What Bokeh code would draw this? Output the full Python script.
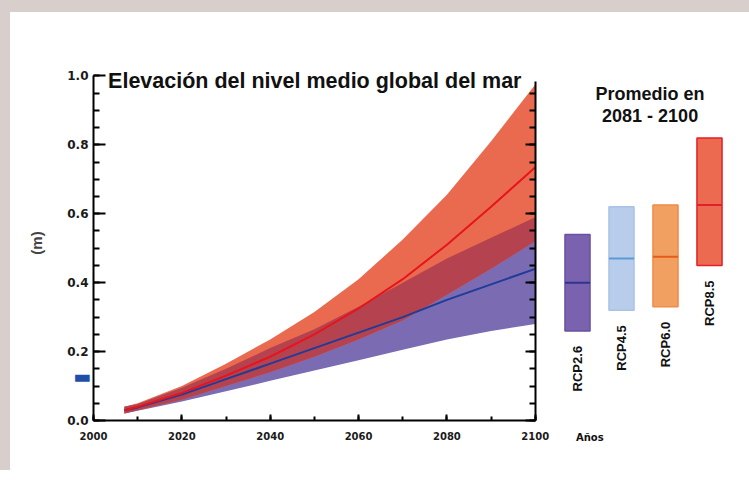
import numpy as np
from bokeh.plotting import figure
from bokeh.models import (Range1d, LinearAxis, SingleIntervalTicker, FixedTicker,
                          NumeralTickFormatter, Label, ColumnDataSource, Spacer)
from bokeh.layouts import row, column
from bokeh.embed import file_html
from bokeh.resources import INLINE
from bokeh.core.properties import value

# ---------------- data ----------------
years = [2007, 2010, 2020, 2030, 2040, 2050, 2060, 2070, 2080, 2090, 2100]
rcp85_mean = [0.03, 0.04, 0.08, 0.13, 0.185, 0.25, 0.325, 0.41, 0.51, 0.62, 0.735]
rcp85_high = [0.04, 0.05, 0.10, 0.165, 0.235, 0.315, 0.41, 0.525, 0.655, 0.81, 0.975]
rcp85_low = [0.02, 0.03, 0.06, 0.10, 0.14, 0.185, 0.235, 0.29, 0.365, 0.44, 0.52]
rcp26_mean = [0.03, 0.038, 0.075, 0.12, 0.165, 0.21, 0.255, 0.30, 0.35, 0.395, 0.44]
rcp26_high = [0.04, 0.048, 0.095, 0.15, 0.21, 0.265, 0.33, 0.40, 0.47, 0.53, 0.59]
rcp26_low = [0.02, 0.028, 0.055, 0.085, 0.115, 0.145, 0.175, 0.205, 0.235, 0.26, 0.28]
obs_level = 0.128

scenarios = ["RCP2.6", "RCP4.5", "RCP6.0", "RCP8.5"]
avg_mean = [0.40, 0.47, 0.475, 0.625]
avg_low = [0.26, 0.32, 0.33, 0.45]
avg_high = [0.54, 0.62, 0.625, 0.82]

title_text = "Elevación del nivel medio global del mar"
ylabel = "(m)"
xlabel = "Años"
avg_title = ["Promedio en", "2081 - 2100"]

# ---------------- styles ----------------
GREY = "#d8cfcc"
C_RED_BAND = "#ea6a4f"
C_OVER = "#b4434f"
C_BLUE_BAND = "#7a6bb3"
C_RED_LINE = "#e8141c"
C_BLUE_LINE = "#1f3c99"
bar_fill = ["#7a62ae", "#b8cdeb", "#f2a062", "#eb6a50"]
bar_line = ["#6a52a2", "#aac2e6", "#ee8c48", "#e2202a"]
bar_med = ["#2d3590", "#5b9bd5", "#e85a1a", "#e0202a"]
FONT = "Liberation Sans"
TICKFONT = "DejaVu Sans"
TXT = "#111111"

Y_TOP = 1.03  # small headroom above the 1.0 tick for the title

# ---------------- main figure ----------------
p = figure(frame_width=442, frame_height=355, min_border_left=83, min_border_right=15,
           min_border_top=53, min_border_bottom=50,
           x_range=Range1d(2000, 2100.05), y_range=Range1d(0, Y_TOP),
           output_backend="svg", toolbar_location=None, tools="")
p.outline_line_color = None
p.xgrid.visible = False
p.ygrid.visible = False
p.background_fill_color = "white"
p.border_fill_color = "white"

yr = np.array(years, dtype=float)
r_lo, r_hi = np.array(rcp85_low), np.array(rcp85_high)
b_lo, b_hi = np.array(rcp26_low), np.array(rcp26_high)
ov_lo = np.maximum(r_lo, b_lo)
ov_hi = np.maximum(np.minimum(r_hi, b_hi), ov_lo)

p.varea(x=yr, y1=b_lo, y2=b_hi, fill_color=C_BLUE_BAND)
p.varea(x=yr, y1=r_lo, y2=r_hi, fill_color=C_RED_BAND)
p.varea(x=yr, y1=ov_lo, y2=ov_hi, fill_color=C_OVER)
p.line(yr, rcp26_mean, line_color=C_BLUE_LINE, line_width=2)
p.line(yr, rcp85_mean, line_color=C_RED_LINE, line_width=2)

# axes
yax = p.yaxis[0]
yax.ticker = SingleIntervalTicker(interval=0.2, num_minor_ticks=4)
yax.formatter = NumeralTickFormatter(format="0.0")
yax.bounds = (0, 1.0)
xax = p.xaxis[0]
xax.ticker = SingleIntervalTicker(interval=20, num_minor_ticks=2)

for ax in (xax, yax):
    ax.axis_line_width = 2
    ax.axis_line_color = "black"
    ax.major_tick_out = 0
    ax.minor_tick_out = 0
    ax.major_tick_line_color = "black"
    ax.minor_tick_line_color = "black"
    ax.major_label_text_font = TICKFONT
    ax.major_label_text_font_style = "bold"
    ax.major_label_text_color = "#1a1a1a"

yax.major_tick_in = 12
yax.minor_tick_in = 6
yax.major_tick_line_width = 2
yax.minor_tick_line_width = 2
yax.major_label_text_font_size = "12px"
yax.major_label_standoff = 5
yax.axis_label = ylabel
yax.axis_label_text_font = FONT
yax.axis_label_text_font_style = "bold"
yax.axis_label_text_font_size = "15px"
yax.axis_label_standoff = 19

xax.major_tick_in = 6
xax.minor_tick_in = 4
xax.major_tick_line_width = 2
xax.minor_tick_line_width = 2
xax.major_label_text_font_size = "10px"
xax.major_label_standoff = 11

rax = LinearAxis(ticker=SingleIntervalTicker(interval=0.2, num_minor_ticks=4), bounds=(0, 0.985))
rax.major_label_text_color = None
rax.axis_line_width = 2
rax.major_tick_out = 0
rax.minor_tick_out = 0
rax.major_tick_in = 10
rax.minor_tick_in = 6
rax.major_tick_line_width = 2
rax.minor_tick_line_width = 2
p.add_layout(rax, "right")

# observed marker shown at the left of the axis (outer axis pulled inwards)
oax = LinearAxis(ticker=FixedTicker(ticks=[obs_level]),
                 major_label_overrides={obs_level: "▬"})
oax.axis_line_color = None
oax.major_tick_line_color = None
oax.minor_tick_line_color = None
oax.major_tick_in = 0
oax.major_tick_out = 0
oax.minor_tick_in = 0
oax.minor_tick_out = 0
oax.major_label_text_font = "DejaVu Sans"
oax.major_label_text_font_size = "19px"
oax.major_label_text_color = "#1f4fa8"
oax.major_label_standoff = -66
p.add_layout(oax, "left")

p.add_layout(Label(x=2003.3, y=0.985, text=title_text, text_font=FONT,
                   text_font_style="bold", text_font_size="21.5px",
                   text_baseline="middle", text_color=TXT))

# ---------------- averages figure ----------------
q = figure(frame_width=176, frame_height=355, min_border_left=5, min_border_right=10,
           min_border_top=53, min_border_bottom=50,
           x_range=Range1d(-0.5, 3.5), y_range=p.y_range,
           x_axis_type=None, y_axis_type=None,
           output_backend="svg", toolbar_location=None, tools="")
q.grid.visible = False
q.outline_line_color = None
q.border_fill_color = "white"

idx = np.arange(len(scenarios))
src = ColumnDataSource(dict(x=idx, low=avg_low, high=avg_high, mean=avg_mean,
                            name=scenarios, fill=bar_fill, line=bar_line, med=bar_med))
q.vbar(x="x", bottom="low", top="high", width=0.57, source=src,
       fill_color="fill", line_color="line", line_width=1.5)
q.rect(x="x", y="mean", width=0.57, height=2, height_units="screen",
       source=src, fill_color="med", line_color=None)
q.text(x="x", y="low", text="name", source=src, angle=np.pi / 2,
       text_align="right", text_baseline="middle", y_offset=15,
       text_font=value(FONT), text_font_style="bold", text_font_size="13px",
       text_color=TXT)

q.add_layout(Label(x=1.65, y=0.948, text=avg_title[0], text_font=FONT, text_font_style="bold",
                   text_font_size="18px", text_align="center", text_baseline="middle",
                   text_color=TXT))
q.add_layout(Label(x=1.65, y=0.884, text=avg_title[1], text_font=FONT, text_font_style="bold",
                   text_font_size="18px", text_align="center", text_baseline="middle",
                   text_color=TXT))

anos_pos = 0.28
qax = LinearAxis(ticker=FixedTicker(ticks=[anos_pos]),
                 major_label_overrides={anos_pos: xlabel})
qax.axis_line_color = None
qax.major_tick_line_color = None
qax.minor_tick_line_color = None
qax.major_tick_in = 0
qax.major_tick_out = 0
qax.minor_tick_in = 0
qax.minor_tick_out = 0
qax.major_label_text_font = TICKFONT
qax.major_label_text_font_style = "bold"
qax.major_label_text_font_size = "10px"
qax.major_label_text_color = TXT
qax.major_label_standoff = 11
q.add_layout(qax, "below")

top_strip = Spacer(width=749, height=12, styles={"background-color": GREY})
left_strip = Spacer(width=10, height=458, styles={"background-color": GREY})
layout = column(top_strip, row(left_strip, p, q))

open("out.html", "w").write(file_html(layout, INLINE))
